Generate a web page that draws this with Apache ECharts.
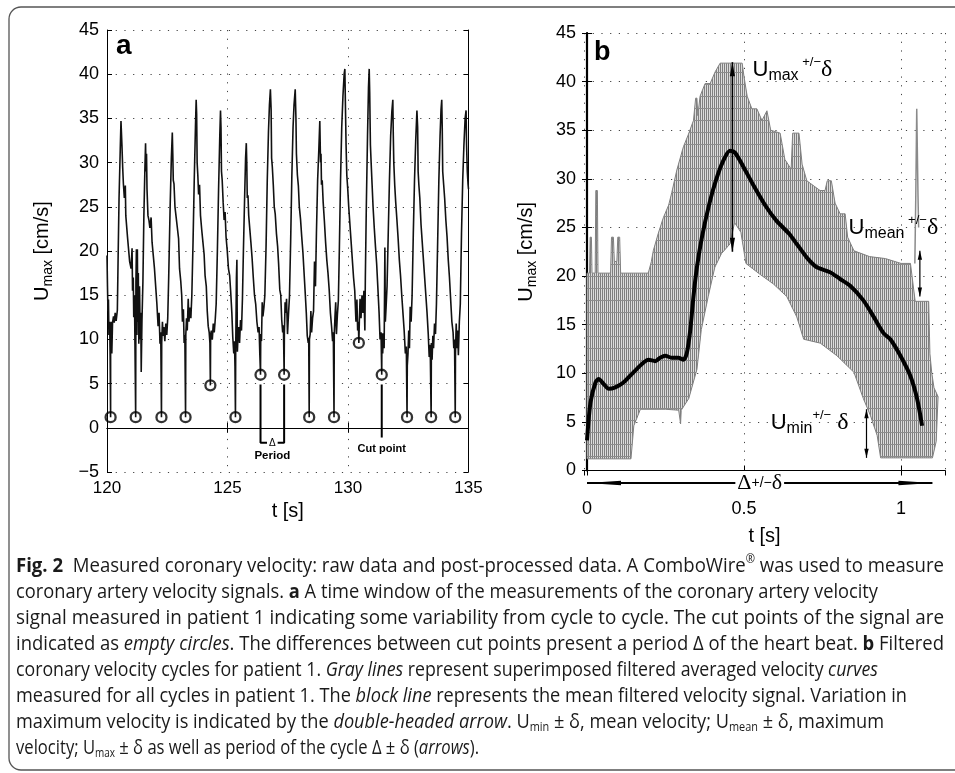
<!DOCTYPE html>
<html>
<head>
<meta charset="utf-8">
<script src="https://cdn.jsdelivr.net/npm/echarts@6/dist/echarts.min.js"></script>
<style>
  html, body { margin: 0; padding: 0; background: #fff; }
  #chart { width: 955px; height: 773px; }
</style>
</head>
<body>
<div id="chart"></div>
<script>
// ---------------- Panel a: raw velocity trace ----------------
const cutTimes  = [120.15, 121.19, 122.26, 123.26, 124.29, 125.33, 126.37, 127.35, 128.39, 129.42, 130.45, 131.40, 132.45, 133.45, 134.45];
const cutValues = [1.2, 1.2, 1.2, 1.2, 4.8, 1.2, 6.0, 6.0, 1.2, 1.2, 9.6, 6.0, 1.2, 1.2, 1.2];

// [t (s), Umax (cm/s)]
const velocityTrace = [
  [120.00,19.5],[120.02,16.0],[120.04,13.2],[120.06,14.5],[120.08,10.5],[120.11,12.0],[120.13,8.2],[120.15,1.2],
  [120.15,8.5],[120.18,12.0],[120.20,8.4],[120.23,11.9],[120.27,12.6],[120.30,11.9],[120.34,13.0],[120.38,12.1],[120.43,13.3],[120.46,19.0],[120.50,26.0],[120.55,31.5],[120.58,34.7],[120.60,34.7],[120.62,32.0],[120.65,29.5],[120.68,27.6],[120.72,26.0],[120.76,27.4],[120.78,24.0],[120.85,21.6],[120.90,21.8],[120.94,18.8],[121.00,18.0],[121.04,20.3],[121.06,15.5],[121.09,17.0],[121.11,12.5],[121.14,15.0],[121.16,9.5],[121.19,1.2],
  [121.20,16.5],[121.22,20.2],[121.24,10.5],[121.26,20.2],[121.28,12.0],[121.30,17.5],[121.32,9.5],[121.35,16.0],[121.38,10.0],[121.40,13.0],[121.42,6.3],[121.45,12.0],[121.49,16.5],[121.53,24.0],[121.57,29.0],[121.60,32.2],[121.62,29.0],[121.64,31.0],[121.66,27.0],[121.70,24.0],[121.74,23.5],[121.78,22.6],[121.83,23.8],[121.87,21.0],[121.92,19.5],[121.97,18.0],[122.02,16.0],[122.07,14.0],[122.12,11.5],[122.16,13.0],[122.20,9.5],[122.23,10.8],[122.26,1.2],
  [122.27,9.6],[122.30,12.0],[122.33,10.4],[122.36,11.4],[122.40,9.8],[122.44,11.8],[122.48,10.5],[122.52,12.4],[122.56,17.0],[122.62,25.0],[122.67,30.5],[122.71,33.4],[122.73,31.0],[122.75,28.0],[122.78,27.6],[122.82,25.0],[122.87,23.8],[122.92,22.6],[122.97,21.4],[123.01,18.0],[123.06,16.6],[123.10,15.0],[123.13,12.0],[123.17,13.4],[123.20,9.6],[123.23,10.5],[123.26,1.2],
  [123.27,10.5],[123.30,12.4],[123.33,11.0],[123.37,14.6],[123.40,12.0],[123.44,13.6],[123.48,12.4],[123.52,15.0],[123.57,21.0],[123.62,28.0],[123.67,34.0],[123.70,37.1],[123.72,35.5],[123.74,30.0],[123.77,28.5],[123.80,26.4],[123.84,27.5],[123.88,24.0],[123.93,22.4],[123.98,21.0],[124.03,19.6],[124.07,17.2],[124.12,16.0],[124.16,13.2],[124.20,11.5],[124.24,10.8],[124.27,9.6],[124.29,4.8],
  [124.30,10.6],[124.33,11.0],[124.37,10.0],[124.41,11.8],[124.45,10.8],[124.49,12.2],[124.53,14.0],[124.58,20.0],[124.63,27.0],[124.68,33.0],[124.71,35.9],[124.73,34.0],[124.75,29.0],[124.78,28.0],[124.82,25.5],[124.86,23.5],[124.90,24.4],[124.94,21.6],[124.99,20.0],[125.04,18.0],[125.09,17.2],[125.13,15.5],[125.18,13.0],[125.22,10.2],[125.26,8.4],[125.29,9.8],[125.31,7.0],[125.33,1.2],
  [125.34,8.5],[125.37,17.0],[125.39,19.0],[125.41,8.6],[125.44,10.6],[125.47,11.4],[125.50,9.6],[125.54,12.2],[125.58,11.0],[125.62,14.6],[125.66,20.0],[125.71,26.0],[125.75,30.5],[125.78,32.2],[125.80,30.0],[125.82,26.0],[125.85,26.3],[125.88,24.0],[125.92,23.8],[125.97,21.0],[126.02,19.2],[126.07,17.0],[126.12,15.0],[126.17,14.0],[126.22,12.0],[126.27,10.8],[126.31,11.4],[126.34,8.4],[126.37,6.0],
  [126.38,10.6],[126.41,9.8],[126.44,14.2],[126.47,12.6],[126.51,13.6],[126.55,15.0],[126.60,20.5],[126.65,28.0],[126.70,33.5],[126.74,36.5],[126.78,38.3],[126.81,36.0],[126.83,30.5],[126.86,29.5],[126.90,27.5],[126.94,25.0],[126.98,24.2],[127.03,22.0],[127.08,20.5],[127.12,18.6],[127.17,15.6],[127.21,15.0],[127.25,12.2],[127.29,10.8],[127.32,11.6],[127.35,6.0],
  [127.36,10.6],[127.39,14.2],[127.42,13.0],[127.45,14.6],[127.49,10.6],[127.53,12.8],[127.57,14.8],[127.62,21.0],[127.67,28.5],[127.72,34.0],[127.76,36.5],[127.81,38.3],[127.84,35.0],[127.86,31.0],[127.90,28.6],[127.94,27.4],[127.98,25.0],[128.03,23.6],[128.08,21.6],[128.13,19.8],[128.18,17.4],[128.23,15.0],[128.27,13.0],[128.31,10.4],[128.35,9.6],[128.37,10.2],[128.39,1.2],
  [128.40,10.0],[128.43,10.6],[128.46,13.2],[128.49,10.8],[128.53,12.4],[128.57,13.2],[128.61,18.8],[128.65,16.0],[128.69,22.0],[128.74,28.0],[128.79,31.5],[128.83,34.7],[128.86,30.0],[128.88,31.0],[128.90,27.5],[128.93,28.0],[128.97,25.5],[129.02,23.4],[129.07,21.0],[129.12,19.0],[129.17,17.5],[129.22,15.6],[129.27,13.0],[129.32,11.4],[129.36,9.8],[129.39,10.8],[129.42,1.2],
  [129.43,10.6],[129.46,12.6],[129.49,14.2],[129.52,10.6],[129.56,12.8],[129.60,14.4],[129.64,20.0],[129.69,28.0],[129.74,34.0],[129.79,37.5],[129.84,40.0],[129.87,40.6],[129.89,37.0],[129.92,32.0],[129.95,28.6],[129.99,27.0],[130.03,25.0],[130.08,23.0],[130.13,21.0],[130.18,19.0],[130.23,17.0],[130.28,15.5],[130.33,12.0],[130.37,14.5],[130.40,11.0],[130.43,12.0],[130.45,9.6],
  [130.47,12.0],[130.50,14.6],[130.54,12.4],[130.58,15.0],[130.62,13.0],[130.66,15.5],[130.70,11.0],[130.72,17.0],[130.76,25.0],[130.81,33.0],[130.85,38.5],[130.88,40.6],[130.90,38.0],[130.93,32.0],[130.96,30.0],[131.00,27.5],[131.04,25.0],[131.09,22.6],[131.14,20.5],[131.19,18.5],[131.24,15.8],[131.29,13.0],[131.33,10.0],[131.37,10.8],[131.40,6.0],
  [131.41,10.7],[131.44,8.4],[131.47,10.7],[131.50,9.0],[131.53,20.4],[131.55,12.0],[131.58,13.6],[131.62,16.0],[131.67,22.0],[131.72,28.0],[131.77,33.0],[131.82,35.8],[131.86,37.1],[131.88,33.0],[131.90,30.0],[131.94,27.4],[131.98,25.5],[132.03,23.5],[132.08,21.4],[132.13,19.0],[132.18,17.2],[132.23,15.0],[132.28,13.0],[132.33,11.0],[132.38,8.4],[132.42,9.2],[132.45,1.2],
  [132.46,7.0],[132.49,8.4],[132.52,11.0],[132.55,9.0],[132.58,13.7],[132.62,12.0],[132.66,15.0],[132.71,22.0],[132.76,28.0],[132.81,32.5],[132.86,35.9],[132.89,34.0],[132.91,29.0],[132.94,27.5],[132.98,26.0],[133.03,23.0],[133.08,21.0],[133.13,19.0],[133.18,17.0],[133.23,15.0],[133.28,13.0],[133.33,10.6],[133.37,8.0],[133.41,9.4],[133.45,1.2],
  [133.46,9.6],[133.49,7.7],[133.52,10.4],[133.55,9.0],[133.59,11.8],[133.63,10.6],[133.67,14.0],[133.72,21.0],[133.77,28.0],[133.82,33.0],[133.86,36.0],[133.89,37.1],[133.91,34.0],[133.93,29.0],[133.97,27.5],[134.01,26.0],[134.06,23.5],[134.11,21.6],[134.16,19.0],[134.21,17.0],[134.26,14.5],[134.31,12.0],[134.36,10.8],[134.39,9.0],[134.42,10.0],[134.45,1.2],
  [134.46,8.4],[134.49,11.8],[134.52,9.0],[134.55,11.0],[134.58,8.2],[134.62,12.0],[134.66,14.0],[134.71,22.0],[134.76,28.0],[134.81,32.0],[134.86,35.0],[134.90,35.9],[134.92,32.0],[134.95,29.0],[134.98,27.6],[135.00,27.0]
];

// ---------------- Panel b: superimposed filtered cycles ----------------
// outline of the grey band formed by all cycles, upper edge left -> right
const bandUpper = [
  [0.000,20.3],[0.008,20.3],[0.010,24.0],[0.014,24.0],[0.016,20.3],[0.026,20.3],[0.028,28.8],[0.033,28.8],[0.035,20.3],
  [0.075,20.3],[0.078,24.0],[0.084,24.0],[0.087,21.5],[0.095,21.5],[0.098,24.0],[0.104,24.0],[0.107,20.3],[0.195,20.3],
  [0.205,21.5],[0.211,22.6],[0.227,24.4],[0.243,26.0],[0.260,27.3],[0.270,28.6],[0.286,30.9],[0.307,33.3],[0.322,34.5],
  [0.339,36.0],[0.346,38.3],[0.350,38.3],[0.353,36.5],[0.360,38.5],[0.376,39.8],[0.392,39.8],[0.408,41.0],[0.424,41.9],
  [0.494,41.9],[0.500,40.5],[0.510,38.5],[0.525,37.2],[0.541,37.2],[0.557,36.0],[0.573,37.0],[0.585,35.0],[0.615,34.7],
  [0.630,32.0],[0.650,31.0],[0.655,34.7],[0.675,34.7],[0.685,31.5],[0.700,29.8],[0.742,28.8],[0.758,28.8],[0.765,29.8],
  [0.778,29.8],[0.790,27.5],[0.806,26.4],[0.822,26.4],[0.830,24.0],[0.850,22.6],[0.900,22.0],[0.950,21.8],[1.000,21.3],
  [1.030,21.3],[1.045,17.4],[1.088,17.4],[1.092,12.0],[1.098,10.0],[1.105,8.5],[1.118,7.6],[1.112,3.0],[1.100,1.3]
];
// lower edge right -> left (closes the band outline)
const bandLower = [
  [0.935,1.3],[0.924,3.6],[0.902,5.7],[0.880,7.4],[0.850,10.1],[0.796,11.8],[0.743,13.1],[0.690,13.5],[0.668,15.8],
  [0.636,17.9],[0.593,19.2],[0.550,20.2],[0.506,21.3],[0.490,24.5],[0.470,25.5],[0.455,23.3],[0.428,22.3],[0.407,20.9],
  [0.386,17.9],[0.364,14.5],[0.350,10.4],[0.324,7.4],[0.300,6.2],[0.298,4.8],[0.292,6.2],[0.250,6.3],[0.170,6.3],
  [0.149,4.6],[0.140,1.2],[0.000,1.2]
];
// isolated cycle with a late spike
const spikeTrace = [[1.044,21.3],[1.047,28.3],[1.049,28.3],[1.050,37.2],[1.053,37.2],[1.054,28.3],[1.056,25.0]];

// mean filtered velocity over one cycle
const meanCycle = [
  [0.000,3.1],[0.011,7.0],[0.027,9.05],[0.037,9.4],[0.053,8.9],[0.069,8.4],[0.090,8.55],[0.116,9.05],[0.148,10.1],
  [0.180,11.1],[0.196,11.4],[0.217,11.25],[0.233,11.6],[0.249,11.8],[0.270,11.6],[0.291,11.6],[0.307,11.4],[0.318,12.1],
  [0.329,14.5],[0.339,17.9],[0.350,20.9],[0.366,24.0],[0.390,27.5],[0.410,29.8],[0.433,31.8],[0.455,32.9],[0.471,32.7],
  [0.497,31.3],[0.529,29.4],[0.571,27.1],[0.603,25.7],[0.645,24.3],[0.668,23.3],[0.700,21.9],[0.732,20.9],[0.774,20.4],
  [0.806,19.7],[0.838,19.0],[0.880,17.5],[0.913,15.8],[0.945,14.1],[0.966,13.5],[0.998,11.8],[1.030,9.7],[1.051,7.4],[1.067,4.6]
];

// variation arrows [t1, v1, t2, v2]: Umax, Umean, Umin, period
const variationArrows = [
  [0.463, 42.0, 0.463, 22.5],
  [1.060, 22.6, 1.060, 17.9],
  [0.890, 6.3, 0.890, 1.3],
  [0.000, -1.29, 1.100, -1.29]
];

// ---------------- drawing ----------------
const FONT = "'Liberation Sans', Arial, sans-serif";
const SERIF = "'Liberation Serif', 'DejaVu Serif', serif";
const CAP = "'Open Sans', 'Noto Sans', sans-serif";
const DOT = [1.2, 7.5];

const chart = echarts.init(document.getElementById('chart'), null, { renderer: 'canvas' });

// dense vertical strokes with faint quantisation steps, as left by many stacked step curves
function hatch() {
  const c = document.createElement('canvas');
  c.width = 2; c.height = 12;
  const g = c.getContext('2d');
  g.fillStyle = '#dcdcdc'; g.fillRect(0, 0, 2, 12);
  g.fillStyle = '#7e7e7e'; g.fillRect(0, 0, 1, 12);
  g.fillStyle = '#8c8c8c'; g.fillRect(0, 0, 2, 1);
  return c;
}
const hatchPattern = { image: hatch(), repeat: 'repeat' };

const arrowLook = [
  { w: 1.6, len: 14, half: 2.6 },
  { w: 1.2, len: 9, half: 2.2 },
  { w: 1.2, len: 9, half: 2.2 },
  { w: 2.0, len: 34, half: 2.2 }
];
function headPts(tip, from, len, half) {
  const dx = tip[0] - from[0], dy = tip[1] - from[1];
  const L = Math.sqrt(dx * dx + dy * dy) || 1;
  const ux = dx / L, uy = dy / L;
  const bx = tip[0] - ux * len, by = tip[1] - uy * len;
  return [tip, [bx - uy * half, by + ux * half], [bx + uy * half, by - ux * half]];
}

const minusFmt = v => String(v).replace('-', '\u2212');

function axisCommon(fontSize) {
  return {
    axisLine: { show: true, lineStyle: { color: '#000', width: 1 } },
    axisTick: { show: true, inside: true, length: 5, lineStyle: { color: '#000' } },
    axisLabel: { color: '#000', fontFamily: FONT, fontSize: fontSize, formatter: minusFmt },
    splitLine: { show: true, lineStyle: { color: '#444', type: DOT, width: 1 } }
  };
}
function mirror(extra) {
  return Object.assign({
    axisLine: { show: true, lineStyle: { color: '#000', width: 1 } },
    axisTick: { show: true, inside: true, length: 5, lineStyle: { color: '#000' } },
    axisLabel: { show: false },
    splitLine: { show: false }
  }, extra);
}

const yName = '{u|U}{s|max}{u| [cm/s]}';
const yNameRich = {
  u: { fontFamily: FONT, fontSize: 20, color: '#000', lineHeight: 26, verticalAlign: 'middle' },
  s: { fontFamily: FONT, fontSize: 14, color: '#000', lineHeight: 12, verticalAlign: 'bottom' }
};

const bAxisX = Object.assign(axisCommon(18), {
  type: 'value', gridIndex: 1, min: -0.0096, max: 1.14, splitNumber: 2,
  name: 't [s]', nameLocation: 'middle', nameGap: 56,
  nameTextStyle: { fontFamily: FONT, fontSize: 20, color: '#000' }
});
bAxisX.axisLabel = Object.assign({}, bAxisX.axisLabel, { margin: 30, showMinLabel: false, showMaxLabel: false });

const option = {
  animation: false,
  backgroundColor: '#fff',
  grid: [
    { left: 107, top: 30, width: 361.5, height: 442, outerBoundsMode: 'none', containLabel: false },
    { left: 584, top: 33, width: 361, height: 437.5, outerBoundsMode: 'none', containLabel: false }
  ],
  xAxis: [
    Object.assign(axisCommon(17), {
      type: 'value', gridIndex: 0, min: 120, max: 135, interval: 5,
      name: 't [s]', nameLocation: 'middle', nameGap: 24,
      nameTextStyle: { fontFamily: FONT, fontSize: 20, color: '#000' }
    }),
    mirror({ type: 'value', gridIndex: 0, position: 'top', min: 120, max: 135, interval: 5 }),
    bAxisX,
    mirror({ type: 'value', gridIndex: 1, position: 'top', min: -0.0096, max: 1.14, splitNumber: 2 })
  ],
  yAxis: [
    Object.assign(axisCommon(18), {
      type: 'value', gridIndex: 0, min: -5, max: 45, interval: 5,
      name: yName, nameLocation: 'middle', nameGap: 52, nameRotate: 90,
      nameTextStyle: { rich: yNameRich }
    }),
    mirror({ type: 'value', gridIndex: 0, position: 'right', min: -5, max: 45, interval: 5 }),
    Object.assign(axisCommon(18), {
      type: 'value', gridIndex: 1, min: 0, max: 45, interval: 5,
      name: yName, nameLocation: 'middle', nameGap: 45, nameRotate: 90,
      nameTextStyle: { rich: yNameRich }
    }),
    mirror({ type: 'value', gridIndex: 1, position: 'right', min: 0, max: 45, interval: 5,
      axisLine: { show: true, lineStyle: { color: '#000', width: 2.2 } } })
  ],
  series: [
    // panel a
    {
      type: 'line', xAxisIndex: 0, yAxisIndex: 0, data: velocityTrace, symbol: 'none',
      lineStyle: { color: '#111', width: 1.6 }, clip: true, z: 3
    },
    {
      type: 'scatter', xAxisIndex: 0, yAxisIndex: 0,
      data: cutTimes.map((t, i) => [t, cutValues[i]]),
      symbol: 'circle', symbolSize: 10,
      itemStyle: { color: 'rgba(0,0,0,0)', borderColor: '#000', borderWidth: 2.3 }, z: 5
    },
    {
      type: 'line', xAxisIndex: 0, yAxisIndex: 0, symbol: 'none',
      data: [[cutTimes[6], cutValues[6] - 1.1], [cutTimes[6], -1.7], [cutTimes[7], -1.7], [cutTimes[7], cutValues[7] - 1.1]],
      lineStyle: { color: '#000', width: 2 }, z: 4
    },
    {
      type: 'line', xAxisIndex: 0, yAxisIndex: 0, symbol: 'none',
      data: [[cutTimes[11], cutValues[11] - 1.1], [cutTimes[11], -1.1]],
      lineStyle: { color: '#000', width: 2 }, z: 4
    },
    // panel b
    {
      type: 'custom', xAxisIndex: 2, yAxisIndex: 2, data: [[0, 0]], clip: true, z: 2,
      renderItem: function (params, api) {
        const pts = bandUpper.concat(bandLower).map(p => api.coord(p));
        return {
          type: 'polygon', shape: { points: pts },
          style: { fill: hatchPattern, stroke: '#808080', lineWidth: 1 }
        };
      }
    },
    {
      type: 'line', xAxisIndex: 2, yAxisIndex: 2, data: spikeTrace, symbol: 'none',
      lineStyle: { color: '#8a8a8a', width: 1.5 }, z: 2
    },
    {
      type: 'line', xAxisIndex: 2, yAxisIndex: 2, data: meanCycle, symbol: 'none', smooth: 0.25,
      lineStyle: { color: '#000', width: 4 }, z: 4
    },
    {
      type: 'custom', xAxisIndex: 2, yAxisIndex: 2, data: variationArrows, clip: false, z: 6,
      encode: { x: [0, 2], y: [1, 3] },
      renderItem: function (params, api) {
        const look = arrowLook[params.dataIndex];
        const p1 = api.coord([api.value(0), api.value(1)]);
        const p2 = api.coord([api.value(2), api.value(3)]);
        return {
          type: 'group', children: [
            { type: 'line', shape: { x1: p1[0], y1: p1[1], x2: p2[0], y2: p2[1] },
              style: { stroke: '#000', lineWidth: look.w } },
            { type: 'polygon', shape: { points: headPts(p1, p2, look.len, look.half) }, style: { fill: '#000' } },
            { type: 'polygon', shape: { points: headPts(p2, p1, look.len, look.half) }, style: { fill: '#000' } }
          ]
        };
      }
    }
  ]
};
chart.setOption(option);

// ---------------- annotations ----------------
const pa = v => chart.convertToPixel({ gridIndex: 0 }, v);
const pb = v => chart.convertToPixel({ gridIndex: 1 }, v);

function label(pos, text, rich, extra) {
  return Object.assign({
    type: 'text', x: pos[0], y: pos[1], z: 20,
    style: Object.assign({ text: text, rich: rich, fill: '#000', align: 'left', verticalAlign: 'middle' }, extra || {})
  });
}

const uRich = {
  u: { fontFamily: FONT, fontSize: 22, lineHeight: 28, verticalAlign: 'middle' },
  s: { fontFamily: FONT, fontSize: 16, lineHeight: 14, verticalAlign: 'bottom' },
  p: { fontFamily: FONT, fontSize: 13, lineHeight: 14, verticalAlign: 'top' },
  d: { fontFamily: SERIF, fontSize: 24, lineHeight: 28, verticalAlign: 'middle' }
};

// caption
const capRich = {
  n: { fontFamily: CAP, fontSize: 20, lineHeight: 24, verticalAlign: 'middle', fill: '#1a1a1a' },
  b: { fontFamily: CAP, fontSize: 20, fontWeight: 'bold', lineHeight: 24, verticalAlign: 'middle', fill: '#1a1a1a' },
  i: { fontFamily: CAP, fontSize: 20, fontStyle: 'italic', lineHeight: 24, verticalAlign: 'middle', fill: '#1a1a1a' },
  sub: { fontFamily: CAP, fontSize: 12, lineHeight: 12, verticalAlign: 'bottom', fill: '#1a1a1a' },
  sup: { fontFamily: CAP, fontSize: 12, lineHeight: 12, verticalAlign: 'top', fill: '#1a1a1a' }
};
const captionLines = [
  [['b', 'Fig. 2'], ['n', '  Measured coronary velocity: raw data and post-processed data. A ComboWire'], ['sup', '®'], ['n', ' was used to measure']],
  [['n', 'coronary artery velocity signals. '], ['b', 'a'], ['n', ' A time window of the measurements of the coronary artery velocity']],
  [['n', 'signal measured in patient 1 indicating some variability from cycle to cycle. The cut points of the signal are']],
  [['n', 'indicated as '], ['i', 'empty circles'], ['n', '. The differences between cut points present a period \u0394 of the heart beat. '], ['b', 'b'], ['n', ' Filtered']],
  [['n', 'coronary velocity cycles for patient 1. '], ['i', 'Gray lines'], ['n', ' represent superimposed filtered averaged velocity '], ['i', 'curves']],
  [['n', 'measured for all cycles in patient 1. The '], ['i', 'block line'], ['n', ' represents the mean filtered velocity signal. Variation in']],
  [['n', 'maximum velocity is indicated by the '], ['i', 'double-headed arrow'], ['n', '. U'], ['sub', 'min'], ['n', ' \u00b1 \u03b4, mean velocity; U'], ['sub', 'mean'], ['n', ' \u00b1 \u03b4, maximum']],
  [['n', 'velocity; U'], ['sub', 'max'], ['n', ' \u00b1 \u03b4 as well as period of the cycle \u0394 \u00b1 \u03b4 ('], ['i', 'arrows'], ['n', ').']]
];
const captionRight = [944, 878, 944, 944, 878, 907, 884, 479];
const captionY = [566, 592, 618, 644, 670, 696, 722, 748];

const measureCtx = document.createElement('canvas').getContext('2d');
function tokenFont(k) {
  const s = capRich[k];
  return (s.fontStyle || 'normal') + ' ' + (s.fontWeight || 'normal') + ' ' + s.fontSize + 'px ' + s.fontFamily;
}
function lineWidth(tokens) {
  let w = 0;
  tokens.forEach(t => { measureCtx.font = tokenFont(t[0]); w += measureCtx.measureText(t[1]).width; });
  return w;
}

const captionGraphics = captionLines.map((tokens, i) => {
  const natural = lineWidth(tokens);
  const sx = (captionRight[i] - 16) / natural;
  return {
    type: 'text', x: 16, y: captionY[i], scaleX: sx, z: 20,
    style: {
      text: tokens.map(t => '{' + t[0] + '|' + t[1] + '}').join(''),
      rich: capRich, align: 'left', verticalAlign: 'middle'
    }
  };
});

const midPeriod = (cutTimes[6] + cutTimes[7]) / 2;

chart.setOption({
  graphic: [
    { type: 'rect', z: 0, shape: { x: 9, y: 7, width: 990, height: 763, r: 12 },
      style: { fill: 'none', stroke: '#555', lineWidth: 1.3 } },
    // panel letters
    { type: 'text', x: 116, y: 46, z: 20, style: { text: 'a', font: 'bold 28px ' + FONT, fill: '#000', verticalAlign: 'middle' } },
    { type: 'text', x: 594, y: 53, z: 20, style: { text: 'b', font: 'bold 27px ' + FONT, fill: '#000', verticalAlign: 'middle' } },
    // panel a annotations
    label(pa([midPeriod, -1.7]), '\u0394', null,
      { font: '10px ' + FONT, align: 'center', backgroundColor: '#fff', padding: [0, 2] }),
    label(pa([midPeriod, -3.15]), 'Period', null, { font: 'bold 11.5px ' + FONT, align: 'center' }),
    label(pa([cutTimes[11], -2.45]), 'Cut point', null, { font: 'bold 11px ' + FONT, align: 'center' }),
    // panel b annotations
    label(pb([0.527, 41.2]), '{u|U}{s|max}{p| +/\u2212}{d|\u03b4}', uRich),
    label(pb([0.833, 25.0]), '{u|U}{s|mean}{p| +/\u2212}{d|\u03b4}', uRich),
    label(pb([0.585, 4.9]), '{u|U}{s|min}{p|+/\u2212}{d| \u03b4}', uRich),
    label(pb([0.55, -1.29]), '{d|\u0394}{p|+/\u2212}{d|\u03b4}', {
      d: { fontFamily: SERIF, fontSize: 22, lineHeight: 24, verticalAlign: 'middle' },
      p: { fontFamily: FONT, fontSize: 14, lineHeight: 24, verticalAlign: 'middle' }
    }, { align: 'center', backgroundColor: '#fff', padding: [0, 2] })
  ].concat(captionGraphics)
});
</script>
</body>
</html>
